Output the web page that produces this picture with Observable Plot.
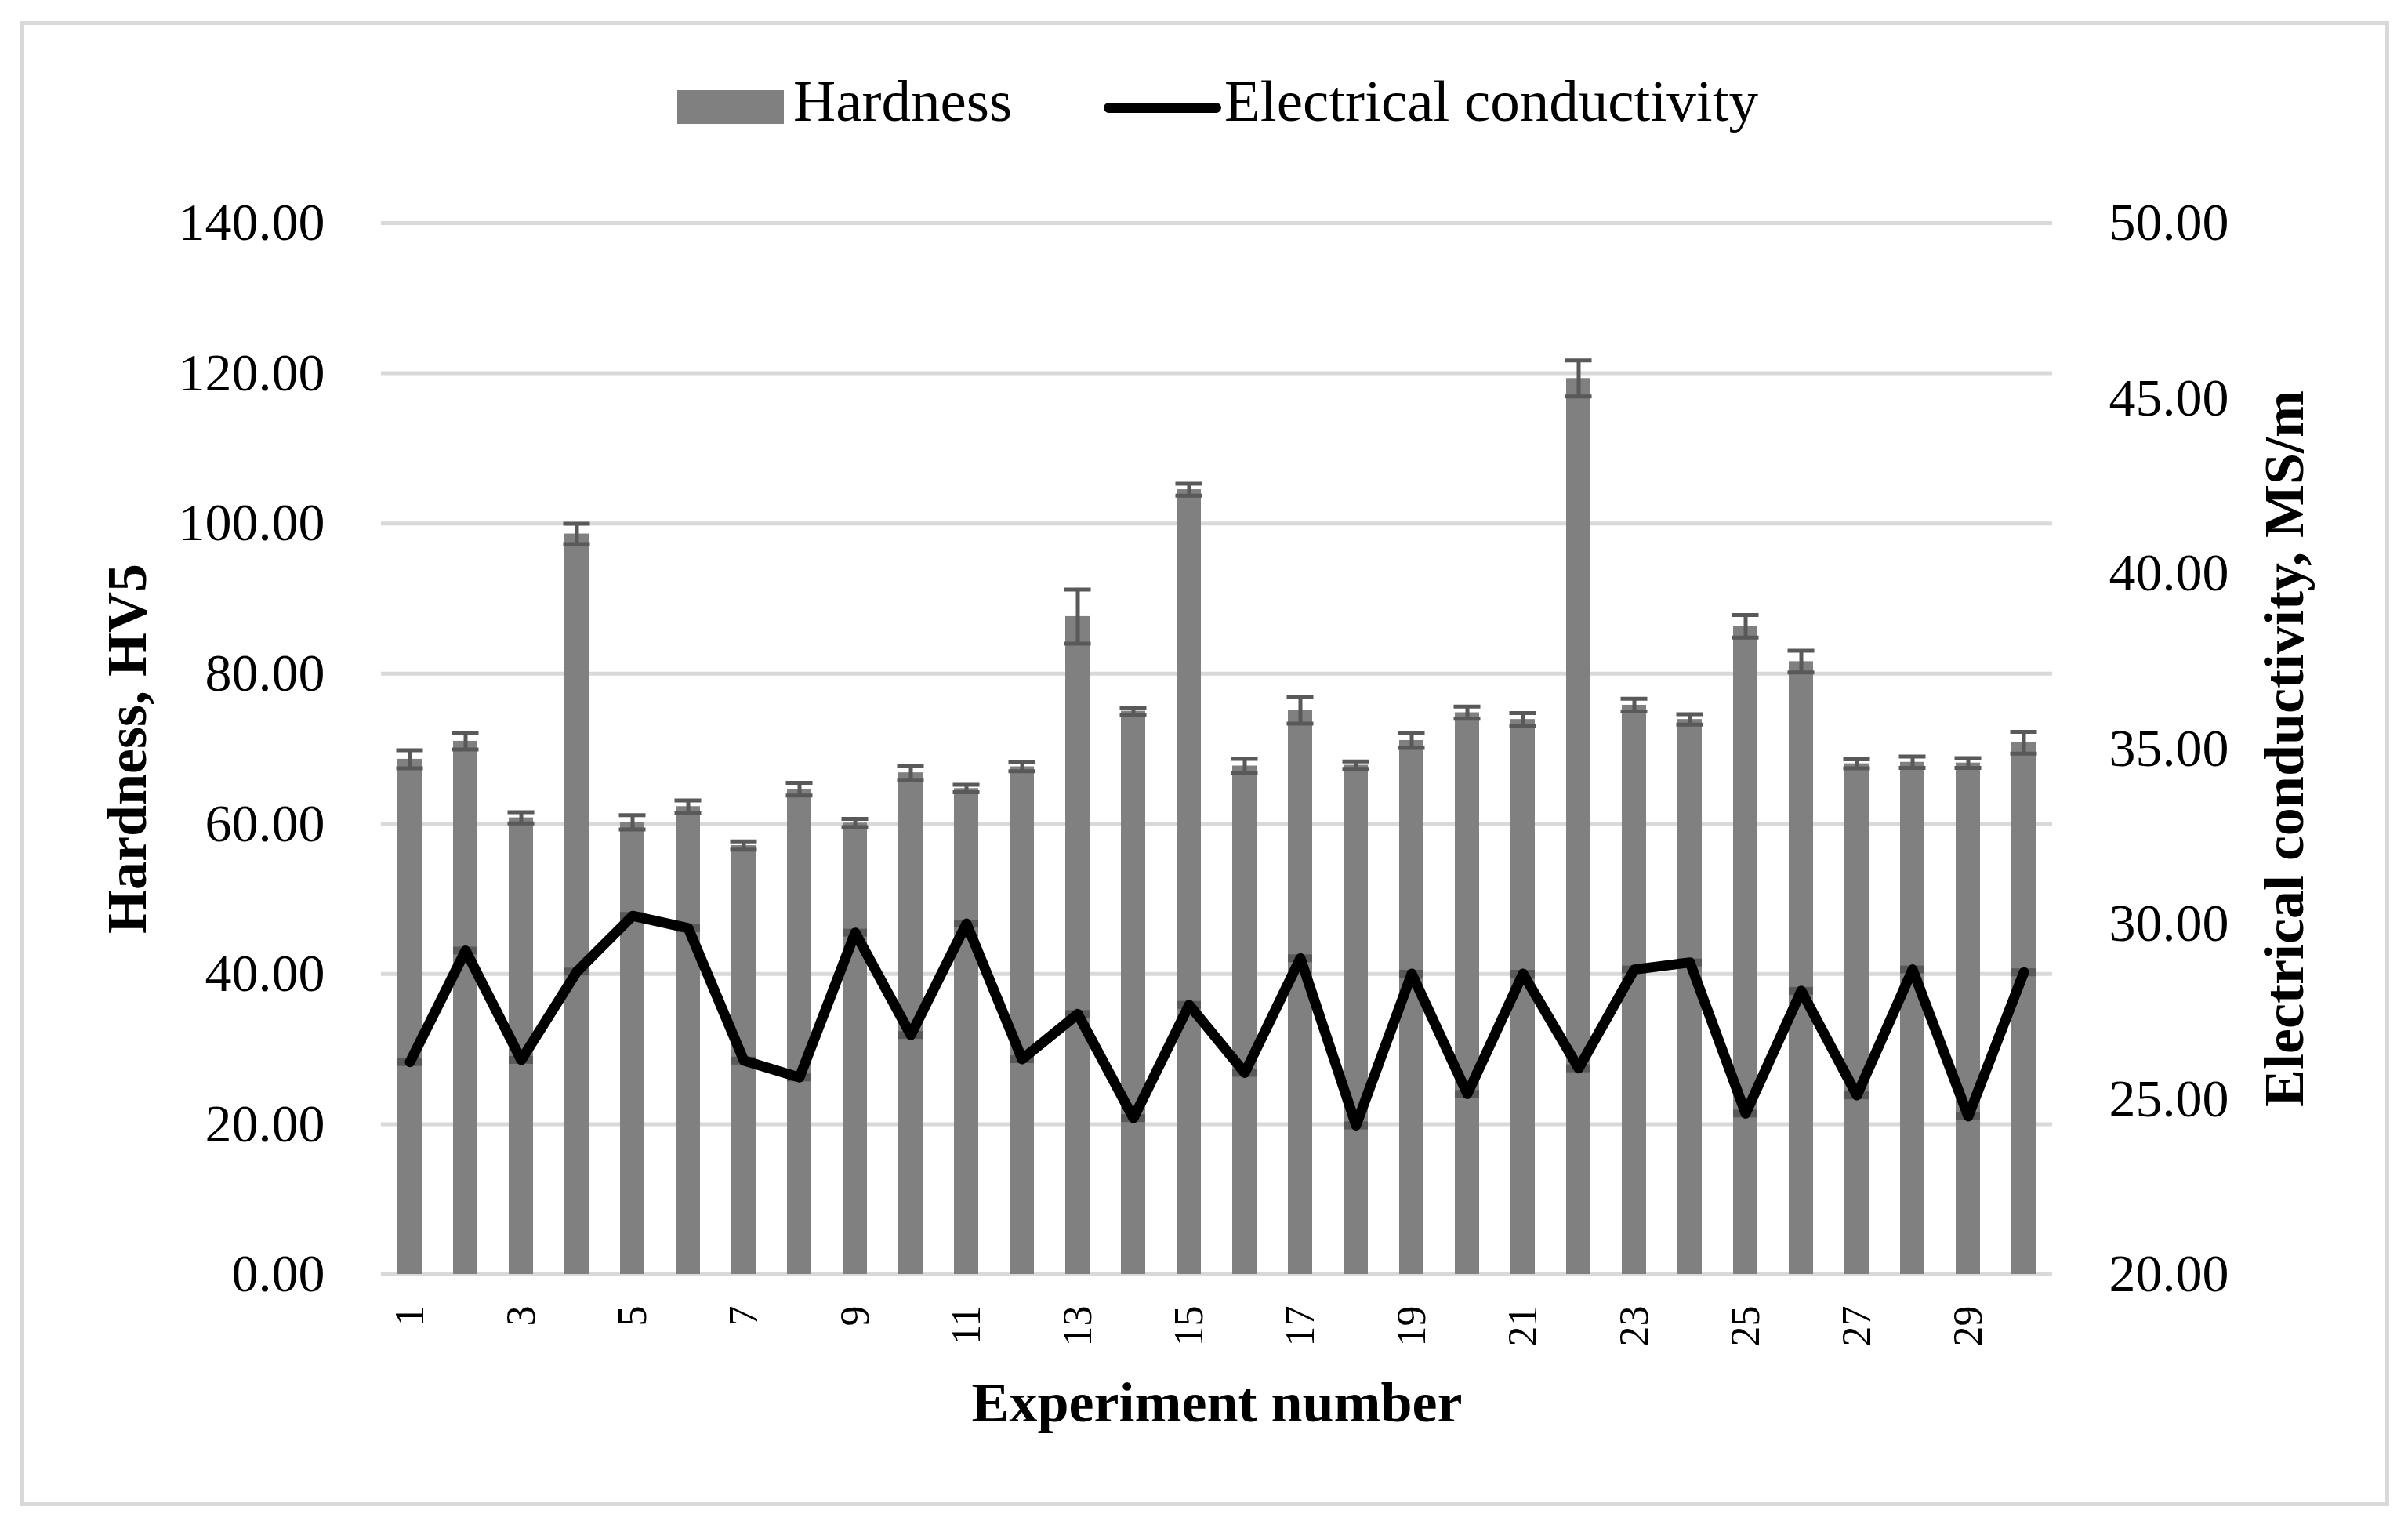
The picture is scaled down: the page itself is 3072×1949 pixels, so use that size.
<!DOCTYPE html>
<html>
<head>
<meta charset="utf-8">
<script src="https://cdn.jsdelivr.net/npm/d3@7"></script>
<script src="https://cdn.jsdelivr.net/npm/@observablehq/plot@0.6"></script>
<style>
  html, body { margin: 0; padding: 0; background: #fff; }
  #page { position: relative; width: 3072px; height: 1949px; overflow: hidden; font-family: "Liberation Serif", serif; }
  #frame { position: absolute; left: 25px; top: 27px; width: 3023px; height: 1894px; border: 5px solid #d9d9d9; box-sizing: border-box; }
  #chart { position: absolute; left: 0; top: 220px; }
  .leg { position: absolute; }
  .legtxt { position: absolute; font-size: 75px; line-height: 1; color: #000; white-space: nowrap; }
</style>
</head>
<body>
<div id="page">
  <div id="frame"></div>
  <div class="leg" style="left:864px; top:115px; width:136px; height:43px; background:#808080;"></div>
  <div class="legtxt" style="left:1012px; top:91px;">Hardness</div>
  <div class="leg" style="left:1408px; top:131px; width:150px; height:13px; background:#000; border-radius:7px;"></div>
  <div class="legtxt" style="left:1562px; top:91px;">Electrical conductivity</div>
  <div id="chart"></div>
</div>
<script>
const experiments = d3.range(1, 31);
const hardness = [68.6, 71.0, 60.8, 98.6, 60.2, 62.3, 57.1, 64.6, 60.1, 66.8, 64.7, 67.6, 87.6, 75.0, 104.5, 67.7, 75.1, 67.8, 71.1, 74.8, 73.9, 119.3, 75.8, 73.9, 86.3, 81.6, 68.0, 68.2, 68.1, 70.8];
const hardnessErr = [1.2, 1.1, 0.75, 1.35, 0.95, 0.8, 0.55, 0.85, 0.55, 0.95, 0.5, 0.6, 3.6, 0.45, 0.8, 0.95, 1.75, 0.5, 1.0, 0.8, 0.85, 2.4, 0.85, 0.7, 1.5, 1.45, 0.6, 0.75, 0.65, 1.45];
const conductivity = [26.06, 29.24, 26.12, 28.64, 30.23, 29.88, 26.10, 25.62, 29.75, 26.83, 30.01, 26.14, 27.43, 24.46, 27.69, 25.75, 29.02, 24.25, 28.58, 25.15, 28.58, 25.88, 28.70, 28.90, 24.59, 28.09, 25.11, 28.70, 24.51, 28.62];
const leftTicks = [0, 20, 40, 60, 80, 100, 120, 140];
const rightTicks = [20, 25, 30, 35, 40, 45, 50];
const xTicks = [1, 3, 5, 7, 9, 11, 13, 15, 17, 19, 21, 23, 25, 27, 29];

// secondary axis (20..50) mapped onto primary (0..140)
const toLeft = v => (v - 20) * 140 / 30;
const toRight = d => 20 + d * 30 / 140;

const data = experiments.map((e, i) => ({
  e, h: hardness[i], err: hardnessErr[i], c: conductivity[i]
}));

const chart = Plot.plot({
  width: 3072,
  height: 1680,
  marginTop: 64,
  marginBottom: 275,
  marginLeft: 486,
  marginRight: 454,
  style: { fontFamily: "Liberation Serif", background: "transparent", color: "#000" },
  x: { type: "band", domain: experiments, paddingInner: 0.56, paddingOuter: 0.28 },
  y: { domain: [0, 140] },
  marks: [
    Plot.gridY(leftTicks, { stroke: "#d9d9d9", strokeOpacity: 1, strokeWidth: 5 }),
    Plot.barY(data, { x: "e", y: "h", fill: "#808080" }),
    Plot.ruleX(data, { x: "e", y1: d => d.h - d.err, y2: d => d.h + d.err, stroke: "#595959", strokeWidth: 5 }),
    Plot.tickY(data, { x: "e", y: d => d.h + d.err, stroke: "#595959", strokeWidth: 5, inset: -1.5 }),
    Plot.tickY(data, { x: "e", y: d => d.h - d.err, stroke: "#595959", strokeWidth: 5, inset: -1.5 }),
    Plot.tickY(data, { x: "e", y: d => toLeft(d.c), stroke: "#595959", strokeWidth: 10 }),
    Plot.line(data, { x: "e", y: d => toLeft(d.c), stroke: "#000", strokeWidth: 13, strokeLinejoin: "round", strokeLinecap: "round" }),
    Plot.axisY({ ticks: leftTicks, anchor: "left", tickSize: 0, tickPadding: 72, fontSize: 68, tickFormat: d => d.toFixed(2), label: null }),
    Plot.axisY({ ticks: rightTicks.map(toLeft), anchor: "right", tickSize: 0, tickPadding: 72, fontSize: 68, tickFormat: d => toRight(d).toFixed(2), label: null }),
    Plot.axisX({ ticks: xTicks, anchor: "bottom", tickSize: 0, tickPadding: 40, tickRotate: -90, fontSize: 52, label: null }),
    Plot.text(["Hardness, HV5"], { frameAnchor: "left", dx: -324, rotate: -90, textAnchor: "middle", lineAnchor: "middle", fontSize: 72, fontWeight: "bold", fill: "#000" }),
    Plot.text(["Electrical conductivity, MS/m"], { frameAnchor: "right", dx: 296, rotate: -90, textAnchor: "middle", lineAnchor: "middle", fontSize: 72, fontWeight: "bold", fill: "#000" }),
    Plot.text(["Experiment number"], { frameAnchor: "bottom", dy: 164, textAnchor: "middle", lineAnchor: "middle", fontSize: 72, fontWeight: "bold", fill: "#000" })
  ]
});
document.getElementById("chart").appendChild(chart);
</script>
</body>
</html>
